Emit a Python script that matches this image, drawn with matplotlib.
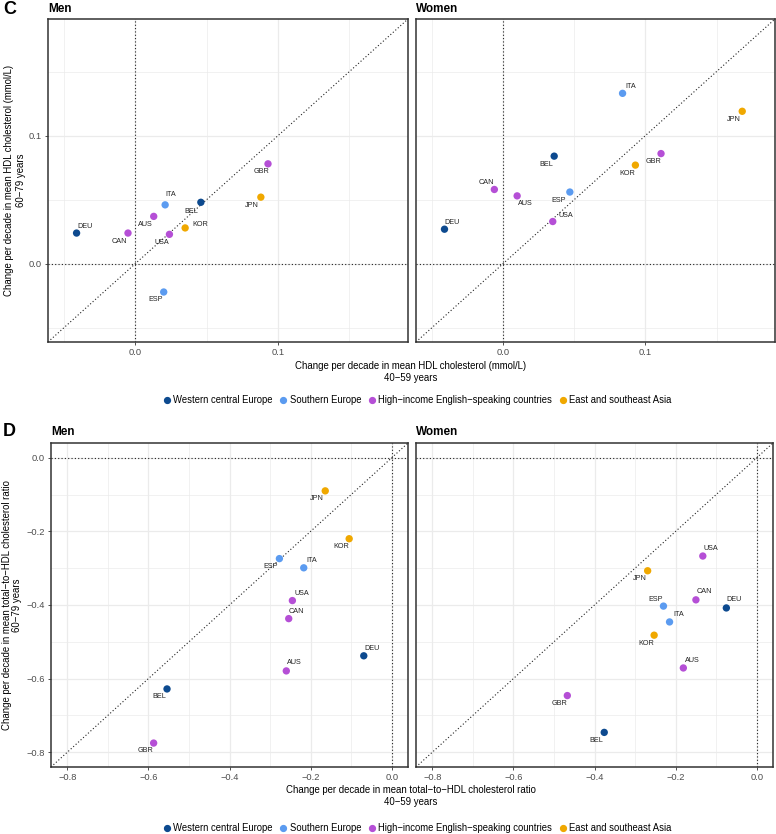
import numpy as np
import matplotlib
matplotlib.use("Agg")
import matplotlib.pyplot as plt
from matplotlib.lines import Line2D

plt.rcParams['font.family'] = ['Liberation Sans', 'DejaVu Sans']

# data
countries = ['DEU', 'BEL', 'ITA', 'ESP', 'GBR', 'USA', 'CAN', 'AUS', 'JPN', 'KOR']
regions = ['Western central Europe', 'Western central Europe', 'Southern Europe', 'Southern Europe',
           'High\u2212income English\u2212speaking countries', 'High\u2212income English\u2212speaking countries',
           'High\u2212income English\u2212speaking countries', 'High\u2212income English\u2212speaking countries',
           'East and southeast Asia', 'East and southeast Asia']
region_order = ['Western central Europe', 'Southern Europe',
                'High\u2212income English\u2212speaking countries', 'East and southeast Asia']

hdl_men_x = [-0.041, 0.046, 0.021, 0.020, 0.093, 0.024, -0.005, 0.013, 0.088, 0.035]
hdl_men_y = [0.024, 0.048, 0.046, -0.022, 0.078, 0.023, 0.024, 0.037, 0.052, 0.028]
hdl_women_x = [-0.041, 0.036, 0.084, 0.047, 0.111, 0.035, -0.006, 0.010, 0.168, 0.093]
hdl_women_y = [0.027, 0.084, 0.133, 0.056, 0.086, 0.033, 0.058, 0.053, 0.119, 0.077]
ratio_men_x = [-0.069, -0.554, -0.217, -0.277, -0.587, -0.245, -0.254, -0.260, -0.164, -0.105]
ratio_men_y = [-0.538, -0.628, -0.299, -0.274, -0.775, -0.388, -0.437, -0.579, -0.090, -0.220]
ratio_women_x = [-0.075, -0.376, -0.215, -0.230, -0.467, -0.133, -0.150, -0.181, -0.269, -0.253]
ratio_women_y = [-0.408, -0.746, -0.446, -0.403, -0.646, -0.267, -0.386, -0.571, -0.307, -0.482]

# styling
colors = {region_order[0]: '#0D4A8F', region_order[1]: '#5B9BF0',
          region_order[2]: '#B54FD6', region_order[3]: '#F0A800'}

# label offsets in pixels (dx, dy; dy down)
off_c_men = {'DEU': (8, -7), 'BEL': (-10, 9), 'ITA': (6, -10), 'ESP': (-8, 7), 'GBR': (-7, 8),
             'USA': (-8, 8), 'CAN': (-9, 8), 'AUS': (-8, 8), 'JPN': (-9, 8), 'KOR': (15, -3)}
off_c_women = {'DEU': (8, -7), 'BEL': (-8, 8), 'ITA': (8, -7), 'ESP': (-11, 8), 'GBR': (-8, 8),
               'USA': (13, -6), 'CAN': (-8, -7), 'AUS': (8, 8), 'JPN': (-8, 8), 'KOR': (-8, 8)}
off_d_men = {'DEU': (8, -7), 'BEL': (-8, 8), 'ITA': (8, -7), 'ESP': (-9, 8), 'GBR': (-8, 7),
             'USA': (9, -7), 'CAN': (8, -7), 'AUS': (8, -8), 'JPN': (-8, 8), 'KOR': (-8, 8)}
off_d_women = {'DEU': (8, -8), 'BEL': (-8, 8), 'ITA': (9, -7), 'ESP': (-8, -7), 'GBR': (-8, 8),
               'USA': (8, -8), 'CAN': (8, -8), 'AUS': (9, -7), 'JPN': (-8, 8), 'KOR': (-8, 8)}

W, H = 776, 834
fig = plt.figure(figsize=(W / 100, H / 100), dpi=100)


def rect(x0, y0, x1, y1):
    return [x0 / W, 1 - y1 / H, (x1 - x0) / W, (y1 - y0) / H]


def fmt(v):
    s = '%.1f' % v
    if s == '-0.0':
        s = '0.0'
    return s.replace('-', '\u2212')


def panel(ax, xs, ys, offs, lim, major, minor):
    ax.set_xlim(lim)
    ax.set_ylim(lim)
    for v in minor:
        ax.axvline(v, color='#EBEBEB', lw=0.5, zorder=0)
        ax.axhline(v, color='#EBEBEB', lw=0.5, zorder=0)
    for v in major:
        ax.axvline(v, color='#EBEBEB', lw=0.9, zorder=0)
        ax.axhline(v, color='#EBEBEB', lw=0.9, zorder=0)
    ax.axvline(0, color='#222222', lw=0.8, ls=(0, (1, 2)), zorder=1)
    ax.axhline(0, color='#222222', lw=0.8, ls=(0, (1, 2)), zorder=1)
    ax.plot(lim, lim, color='#222222', lw=0.8, ls=(0, (1, 2)), zorder=1)
    for c, r, x, y in zip(countries, regions, xs, ys):
        ax.scatter(x, y, s=28, color=colors[r], edgecolors='none', zorder=3)
        dx, dy = offs[c]
        ax.annotate(c, (x, y), xytext=(dx * 0.72, -dy * 0.72), textcoords='offset points',
                    ha='center', va='center', fontsize=5.2, color='#222222', zorder=4)
    ax.set_xticks(major)
    ax.set_yticks(major)
    ax.set_xticklabels([fmt(v) for v in major])
    ax.set_yticklabels([fmt(v) for v in major])
    ax.tick_params(length=2.5, width=0.6, color='#333333', labelsize=6.7, labelcolor='#4D4D4D', pad=2)
    for s in ax.spines.values():
        s.set_color('#333333')
        s.set_linewidth(1.1)


def legend(y):
    handles = [Line2D([], [], marker='o', ls='', color=colors[r], markersize=4.2) for r in region_order]
    fig.legend(handles, region_order, loc='center', bbox_to_anchor=(417 / W, 1 - y / H), ncol=4,
               frameon=False, fontsize=6.85, handletextpad=0.2, columnspacing=0.7, handlelength=0.9)


# panel C
lim_c = (-0.061, 0.191)
ax1 = fig.add_axes(rect(48, 19, 408, 342))
ax2 = fig.add_axes(rect(416, 19, 775, 342))
panel(ax1, hdl_men_x, hdl_men_y, off_c_men, lim_c, [0.0, 0.1], [-0.05, 0.05, 0.15])
panel(ax2, hdl_women_x, hdl_women_y, off_c_women, lim_c, [0.0, 0.1], [-0.05, 0.05, 0.15])
ax2.set_yticklabels([])
ax2.tick_params(axis='y', length=0)
fig.text(3 / W, 1 - 9 / H, 'C', fontsize=13, fontweight='bold', va='center')
fig.text(48 / W, 1 - 9 / H, 'Men', fontsize=8.5, fontweight='bold', va='center')
fig.text(416 / W, 1 - 9 / H, 'Women', fontsize=8.5, fontweight='bold', va='center')
fig.text(411 / W, 1 - 372 / H, 'Change per decade in mean HDL cholesterol (mmol/L)\n40\u221259 years',
         ha='center', va='center', fontsize=6.9, linespacing=1.15)
fig.text(15 / W, 1 - 180 / H, 'Change per decade in mean HDL cholesterol (mmol/L)\n60\u221279 years',
         ha='center', va='center', rotation=90, fontsize=6.9, linespacing=1.3)
legend(400)

# panel D
lim_d = (-0.84, 0.04)
ax3 = fig.add_axes(rect(51, 443, 408, 767))
ax4 = fig.add_axes(rect(416, 443, 773, 767))
ticks_d = [-0.8, -0.6, -0.4, -0.2, 0.0]
minor_d = [-0.7, -0.5, -0.3, -0.1]
panel(ax3, ratio_men_x, ratio_men_y, off_d_men, lim_d, ticks_d, minor_d)
panel(ax4, ratio_women_x, ratio_women_y, off_d_women, lim_d, ticks_d, minor_d)
ax4.set_yticklabels([])
ax4.tick_params(axis='y', length=0)
fig.text(3 / W, 1 - 431 / H, 'D', fontsize=13, fontweight='bold', va='center')
fig.text(51 / W, 1 - 432 / H, 'Men', fontsize=8.5, fontweight='bold', va='center')
fig.text(416 / W, 1 - 432 / H, 'Women', fontsize=8.5, fontweight='bold', va='center')
fig.text(411 / W, 1 - 796 / H, 'Change per decade in mean total\u2212to\u2212HDL cholesterol ratio\n40\u221259 years',
         ha='center', va='center', fontsize=6.9, linespacing=1.15)
fig.text(12 / W, 1 - 605 / H, 'Change per decade in mean total\u2212to\u2212HDL cholesterol ratio\n60\u221279 years',
         ha='center', va='center', rotation=90, fontsize=6.9, linespacing=1.1)
legend(828)

fig.savefig('out.png', dpi=100)
